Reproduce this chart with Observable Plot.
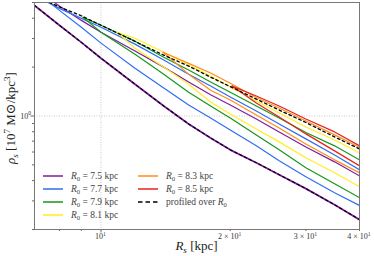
<!DOCTYPE html>
<html><head><meta charset="utf-8">
<script src="https://cdn.jsdelivr.net/npm/d3@7"></script>
<script src="https://cdn.jsdelivr.net/npm/@observablehq/plot@0.6"></script>
<style>body{margin:0;background:#fff} svg{display:block}</style>
</head><body><div id="chart"></div>
<script>
// ---- data ----
const R0Labels = ["7.5","7.7","7.9","8.1","8.3","8.5"];
const colors = ["#7e1e9c","#2f6ef0","#17961a","#ffee22","#ff8c1a","#e8201c"];
const Rgrid = [7,8,9,10,12,14,16,18,20,23,26,30,35,40];
const purpleUpper = [6.10,4.76,3.88,3.28,2.51,2.00,1.62,1.35,1.17,0.959,0.798,0.645,0.522,0.428];
const purpleLower = [4.80,3.62,2.84,2.27,1.57,1.152,0.893,0.733,0.619,0.515,0.435,0.357,0.284,0.230];
const blueUpper = [5.53,4.60,3.99,3.52,2.77,2.21,1.81,1.53,1.31,1.073,0.893,0.723,0.576,0.466];
const blueLower = [5.93,4.47,3.52,2.81,1.97,1.485,1.168,0.972,0.821,0.655,0.530,0.422,0.337,0.281];
const greenR = [9.08,10,12,14,16,18,20,23,26,30,35,40];
const greenUpper = [4.05,3.62,2.89,2.30,1.92,1.62,1.40,1.152,0.972,0.792,0.655,0.537];
const greenLower = [4.05,3.28,2.40,1.81,1.40,1.152,0.972,0.765,0.619,0.480,0.383,0.314];
const yellowR = [10.9,12,14,16,18,20,23,26,30,35,40];
const yellowUpper = [3.28,3.01,2.47,2.06,1.76,1.51,1.236,1.043,0.856,0.712,0.593];
const yellowLower = [3.28,2.61,2.00,1.57,1.219,1.029,0.832,0.693,0.553,0.447,0.367];
const orangeR = [13.95,16,18,20,23,26,30,35,40];
const orangeUpper = [2.47,2.11,1.84,1.59,1.30,1.12,0.932,0.765,0.641];
const orangeLower = [2.47,1.81,1.44,1.254,1.014,0.844,0.673,0.537,0.447];
const redR = [20.2,23,26,30,35,40];
const redUpper = [1.528,1.327,1.152,0.959,0.798,0.655];
const redLower = [1.528,1.202,0.986,0.776,0.610,0.494];
const profileUpper = [5.49,4.70,4.14,3.62,2.88,2.37,2.03,1.735,1.517,1.271,1.088,0.912,0.743,0.627];
const profileLower = [4.80,3.62,2.84,2.27,1.57,1.152,0.893,0.733,0.619,0.515,0.435,0.357,0.284,0.230];
const xTicks = [10,20,30,40];
const xTickMant = ["","2 × ","3 × ","4 × "];
const xTickExp = ["1","1","1","1"];
const xMinor = [8,9,20,30,40];
const yTicks = [1];
const yTickExp = ["0"];
const yMinor = [0.2,0.3,0.4,0.5,0.6,0.7,0.8,0.9,2,3,4,5];

// ---- build rows ----
const rows = (Rs, vals, key) => Rs.map((R, i) => ({R, rho: vals[i], key}));
const bands = [
  [Rgrid, purpleUpper, purpleLower],
  [Rgrid, blueUpper, blueLower],
  [greenR, greenUpper, greenLower],
  [yellowR, yellowUpper, yellowLower],
  [orangeR, orangeUpper, orangeLower],
  [redR, redUpper, redLower]
];
const FONT = "'Liberation Serif','DejaVu Serif',serif";
const DASH = "2.6,2.8";
const marks = [
  Plot.gridX([10], {stroke:"#bbb", strokeOpacity:0.8, strokeDasharray:"1,1.5"}),
  Plot.gridY([1], {stroke:"#bbb", strokeOpacity:0.8, strokeDasharray:"1,1.5"})
];
bands.forEach(([Rs, up, lo], k) => {
  marks.push(Plot.line(rows(Rs, lo, "lo"), {x:"R", y:"rho", stroke: colors[k], strokeWidth: k === 0 ? 1.8 : 1.2, clip:true}));
  marks.push(Plot.line(rows(Rs, up, "up"), {x:"R", y:"rho", stroke: colors[k], strokeWidth:1.2, clip:true}));
});
marks.push(Plot.line(rows(Rgrid, profileUpper, "pu"), {x:"R", y:"rho", stroke:"#000", strokeWidth:1.3, strokeDasharray:DASH, clip:true}));
marks.push(Plot.line(rows(Rgrid, profileLower, "pl"), {x:"R", y:"rho", stroke:"#000", strokeWidth:1.1, strokeDasharray:DASH, clip:true}));
marks.push(
  Plot.axisX(xMinor, {tickSize:2, tickFormat:()=>"", stroke:"#666", label:null}),
  Plot.axisX([10], {tickSize:3.5, tickFormat:()=>"", stroke:"#666", label:null}),
  Plot.axisY(yMinor, {tickSize:2, tickFormat:()=>"", stroke:"#666", label:null}),
  Plot.axisY(yTicks, {tickSize:3.5, tickFormat:()=>"", stroke:"#666", label:null}),
  Plot.frame({stroke:"#777", strokeWidth:1})
);

const chart = Plot.plot({
  width:374, height:256,
  marginLeft:34, marginRight:15, marginTop:2, marginBottom:27,
  x:{type:"log", domain:[7,40]},
  y:{type:"log", domain:[0.2,5]},
  style:{fontFamily:FONT, background:"#fff"},
  marks
});
document.getElementById("chart").appendChild(chart);

// ---- rich text labels and legend ----
const svg = d3.select(chart);
const sx = chart.scale("x"), sy = chart.scale("y");
function rich(g, x, y, parts, size, opts = {}) {
  const t = g.append("text").attr("x", x).attr("y", y)
    .attr("font-size", size).attr("font-family", FONT)
    .attr("fill", opts.fill || "#222")
    .attr("text-anchor", opts.anchor || "start");
  if (opts.transform) t.attr("transform", opts.transform);
  let shift = 0;
  for (const p of parts) {
    const s = t.append("tspan").text(p.t);
    const target = p.sub ? size * 0.25 : p.sup ? -size * 0.4 : 0;
    s.attr("dy", target - shift); shift = target;
    if (p.sub || p.sup) s.attr("font-size", size * 0.7);
    if (p.i) s.attr("font-style", "italic");
  }
  return t;
}
const g = svg.append("g");
// tick labels
xTicks.forEach((v, i) => {
  rich(g, sx.apply(v), 239, [{t: xTickMant[i] + "10"}, {t: xTickExp[i], sup:true}], 8, {anchor:"middle", fill:"#333"});
});
yTicks.forEach((v, i) => {
  rich(g, 31, sy.apply(v) + 3, [{t: "10"}, {t: yTickExp[i], sup:true}], 8, {anchor:"end", fill:"#333"});
});
rich(g, 0, 0, [{t:"ρ", i:true},{t:"s", i:true, sub:true},{t:" [10"},{t:"7", sup:true},{t:" M⊙/kpc"},{t:"3", sup:true},{t:"]"}], 13,
  {anchor:"middle", transform:"translate(15,118) rotate(-90)"});
rich(g, 196.5, 250, [{t:"R", i:true},{t:"s", i:true, sub:true},{t:" [kpc]"}], 13, {anchor:"middle"});

// legend
const legendItems = [
  {col:0,row:0,k:0},{col:0,row:1,k:1},{col:0,row:2,k:2},{col:0,row:3,k:3},
  {col:1,row:0,k:4},{col:1,row:1,k:5},{col:1,row:2,k:-1}
];
const colX = [43, 138], rowY = [176, 189, 202, 215];
legendItems.forEach(({col,row,k}) => {
  const x = colX[col], y = rowY[row];
  g.append("line").attr("x1", x).attr("x2", x + 20).attr("y1", y).attr("y2", y)
    .attr("stroke", k < 0 ? "#000" : colors[k]).attr("stroke-width", k < 0 ? 1.6 : 1.5)
    .attr("stroke-dasharray", k < 0 ? "4.5,3" : null);
  const parts = k < 0
    ? [{t:"profiled over "},{t:"R", i:true},{t:"0", sub:true}]
    : [{t:"R", i:true},{t:"0", sub:true},{t:" = " + R0Labels[k] + " kpc"}];
  rich(g, x + 28, y + 3, parts, 9.5, {fill:"#444"});
});
</script></body></html>
